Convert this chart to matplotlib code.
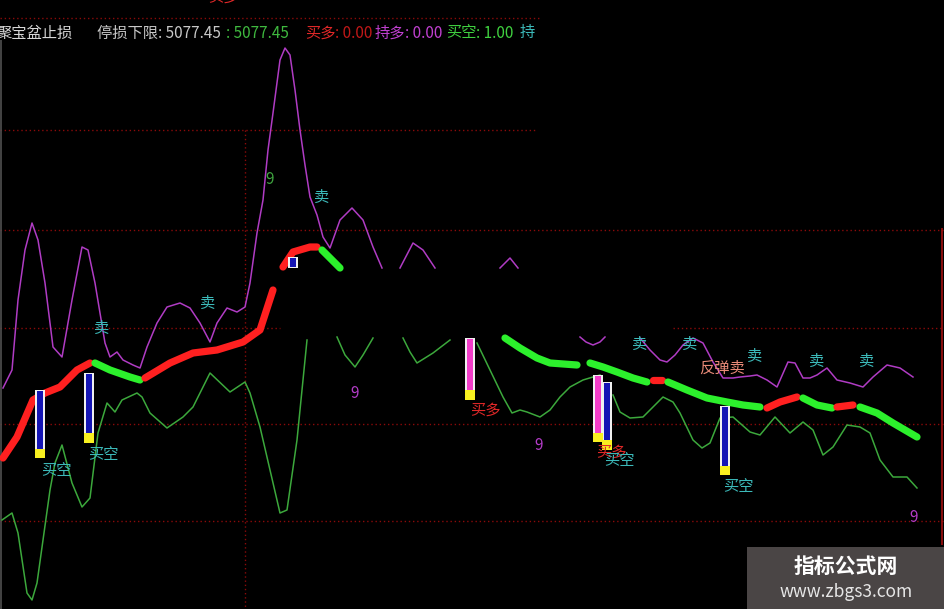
import numpy as np
import matplotlib.pyplot as plt
from matplotlib.patches import Rectangle

plt.rcParams['font.family'] = ['Noto Sans CJK SC', 'DejaVu Sans']

nan = np.nan

# Purple upper band (screen rows, nan = hidden)
upper_x = [3, 12, 18, 25, 32, 38, 45, 53, 62, 72, 82, 88, 95, 100, 105, 110, 117, 123, 133, 140,
           147, 157, 167, 180, 190, 200, 210, 217, 227, 237, 245, 250, 257, 263, 268, 273, 280, 285,
           290, 295, 300, 305, 310, 317, 323, 330, 340, 352, 363, 373, 382,
           390, 400, 413, 423, 435, 460, 500, 510, 518, 540, 580, 586, 593, 600, 605, 620,
           640, 650, 660, 667, 675, 683, 693, 703, 713, 723, 733, 740, 750, 757, 767, 777, 788,
           795, 803, 810, 817, 827, 837, 850, 863, 873, 887, 900, 913]
upper_y = [388, 370, 300, 250, 223, 240, 283, 347, 357, 300, 247, 250, 283, 313, 343, 357, 352, 360, 365, 368,
           347, 323, 307, 303, 308, 323, 342, 323, 308, 312, 307, 283, 233, 200, 150, 113, 60, 48,
           55, 90, 130, 165, 197, 215, 237, 248, 220, 208, 220, 247, 268,
           nan, 268, 243, 250, 268, nan, 268, 258, 268, nan, 337, 342, 345, 342, 337, nan,
           338, 350, 360, 362, 355, 345, 338, 343, 362, 378, 378, 377, 376, 375, 380, 387, 362,
           363, 378, 378, 375, 368, 380, 383, 387, 377, 365, 368, 377]

# Green lower band
lower_x = [2, 12, 18, 27, 32, 37, 50, 55, 62, 72, 82, 90, 98, 107, 115, 122, 137, 142, 150, 167,
           183, 193, 210, 230, 245, 250, 260, 270, 280, 287, 297, 307, 320,
           337, 345, 355, 363, 373, 390, 403, 410, 417, 425, 433, 450, 465,
           477, 490, 503, 512, 520, 527, 540, 550, 560, 570, 583, 593, 600, 606,
           613, 620, 630, 643, 653, 663, 673, 680, 693, 702, 710, 720, 733, 750, 760, 775,
           790, 803, 813, 823, 833, 847, 860, 870, 880, 893, 907, 917]
lower_y = [520, 513, 533, 593, 600, 583, 490, 463, 445, 483, 507, 498, 433, 403, 412, 400, 393, 397, 413, 428,
           417, 407, 373, 392, 382, 393, 427, 470, 513, 510, 440, 340, nan,
           337, 355, 367, 355, 338, nan, 338, 352, 363, 358, 353, 340, nan,
           343, 370, 397, 413, 410, 412, 417, 410, 397, 387, 380, 377, 375, nan,
           395, 412, 418, 417, 407, 397, 402, 413, 440, 448, 443, 418, 417, 432, 435, 417,
           433, 422, 430, 455, 447, 425, 427, 433, 460, 477, 477, 488]

# Thick stop-loss line, state 1 = long (red), 0 = short (green)
stop_x = [3, 17, 33, 45, 60, 77, 90, 95, 110, 130, 140, 145, 150, 170, 193, 217, 243, 260, 273,
          278, 283, 293, 310, 317, 322, 330, 340, 420,
          505, 520, 537, 550, 577, 584, 590, 603, 617, 633, 647, 653, 662, 668, 687, 707, 727, 743, 760,
          767, 780, 797, 803, 817, 832, 837, 853, 860, 877, 893, 917]
stop_y = [458, 437, 400, 393, 387, 370, 363, 363, 370, 377, 380, 378, 375, 363, 353, 350, 342, 330, 290,
          nan, 267, 252, 247, 247, 250, 258, 268, nan,
          338, 348, 358, 363, 365, nan, 363, 367, 372, 378, 382, 380, 380, 382, 390, 398, 402, 405, 407,
          408, 402, 397, 398, 405, 408, 407, 405, 407, 413, 423, 437]
stop_state = [1, 1, 1, 1, 1, 1, 1, 0, 0, 0, 0, 1, 1, 1, 1, 1, 1, 1, 1,
              1, 1, 1, 1, 1, 0, 0, 0, 0,
              0, 0, 0, 0, 0, 0, 0, 0, 0, 0, 0, 1, 1, 0, 0, 0, 0, 0, 0,
              1, 1, 1, 0, 0, 0, 1, 1, 0, 0, 0, 0]

# Signal columns
sig_x = [40, 89, 293, 470, 598, 607, 725]
sig_top = [390, 373, 257, 338, 375, 382, 406]
sig_bottom = [458, 443, 268, 400, 442, 450, 475]
sig_yellow = [9, 10, 0, 10, 9, 10, 9]
sig_fill = ['#1414b4', '#1414b4', '#1414b4', '#f23cc8', '#f23cc8', '#1414b4', '#1414b4']

# Signal labels
label_text = ['买空', '买空', '卖', '卖', '9', '卖', '9', '买多', '9', '买多', '买空', '买空',
              '卖', '卖', '反弹卖', '卖', '卖', '卖', '9']
label_x = [56, 103, 102, 208, 270, 322, 355, 485, 539, 611, 619, 738,
           640, 690, 722, 755, 817, 867, 914]
label_y = [470, 455, 328, 303, 180, 197, 393, 410, 446, 452, 460, 487,
           344, 344, 368, 356, 361, 361, 518]
label_color = ['#3cb9b9', '#3cb9b9', '#3cb9b9', '#3cb9b9', '#3fa63f', '#3cb9b9', '#b43cc8', '#e02828',
               '#b43cc8', '#e02828', '#3cb9b9', '#3cb9b9', '#3cb9b9', '#3cb9b9', '#e88a78',
               '#3cb9b9', '#3cb9b9', '#3cb9b9', '#b43cc8']

# Header items
head_text = ['聚宝盆止损', '停损下限: 5077.45', ': 5077.45', '买多', ': 0.00', '持多', ': 0.00', '买空', ': 1.00', '持']
head_x = [-4, 97, 226, 305, 335, 375, 405, 446, 476, 520]
head_color = ['#d8d8d8', '#c8c8c8', '#3fb83f', '#e02828', '#c01818', '#c040d0', '#c040d0', '#3fd03f', '#3fd03f', '#3cb9b9']

fig = plt.figure(figsize=(9.45, 6.09), dpi=100, facecolor='black')
ax = fig.add_axes([0, 0, 1, 1], facecolor='black')
ax.set_xlim(0, 945)
ax.set_ylim(609, 0)
ax.axis('off')

grid_kw = dict(colors='#8a0a0a', linestyles=(0, (1, 2)), linewidth=1.0, zorder=1)
ax.hlines([18, 130], 0, [540, 535], **grid_kw)
ax.hlines([230, 424, 521], 0, 945, **grid_kw)
ax.hlines([328, 328], [0, 673], [280, 945], **grid_kw)
ax.vlines(245, 130, 609, **grid_kw)
ax.vlines(942, 228, 545, colors='#a01010', linewidth=1.2, zorder=1)
ax.vlines(1, 40, 609, colors='#505050', linewidth=1.2, zorder=1)

ax.plot(upper_x, upper_y, color='#b03cc4', lw=1.1, zorder=3)
ax.plot(lower_x, lower_y, color='#3ca83c', lw=1.1, zorder=3)

# thick line: split into runs of one state
sx, sy, ss = np.array(stop_x, float), np.array(stop_y, float), np.array(stop_state)
start = 0
for i in range(1, len(sx) + 1):
    if i == len(sx) or np.isnan(sy[i]) or ss[i] != ss[start] or np.isnan(sy[start]):
        xs, ys = sx[start:i], sy[start:i]
        ok = ~np.isnan(ys)
        if ok.sum() > 1:
            ax.plot(xs[ok], ys[ok], color='#ff2020' if ss[start] else '#2cf02c',
                    lw=5.2, solid_capstyle='round', zorder=4)
        start = i

for x, t, b, yl, c in zip(sig_x, sig_top, sig_bottom, sig_yellow, sig_fill):
    ax.bar(x, b - t, bottom=t, width=10, color='#f0f0f0', zorder=5)
    ax.bar(x, b - t - 2, bottom=t + 1, width=6, color=c, zorder=6)
    if yl:
        ax.bar(x, yl, bottom=b - yl, width=10, color='#f8f020', zorder=7)

for s, x, y, c in zip(label_text, label_x, label_y, label_color):
    ax.text(x, y, s, color=c, fontsize=11, ha='center', va='center', zorder=8)

for s, x, c in zip(head_text, head_x, head_color):
    ax.text(x, 33, s, color=c, fontsize=11, ha='left', va='center', zorder=8)
ax.text(223, -3, '买多', color='#e02828', fontsize=11, ha='center', va='center')

# site watermark
fig.patches.append(Rectangle((747 / 945, 0), 198 / 945, 62 / 609, transform=fig.transFigure,
                             facecolor='#4a4545', edgecolor='none', zorder=9))
fig.text(846 / 945, 1 - 566 / 609, '指标公式网', color='white', fontsize=15, fontweight='bold',
         ha='center', va='center', zorder=10)
fig.text(846 / 945, 1 - 592 / 609, 'www.zbgs3.com', color='#e6e6e6', fontsize=12.5,
         ha='center', va='center', zorder=10)

fig.savefig('out.png', dpi=100, facecolor='black')
